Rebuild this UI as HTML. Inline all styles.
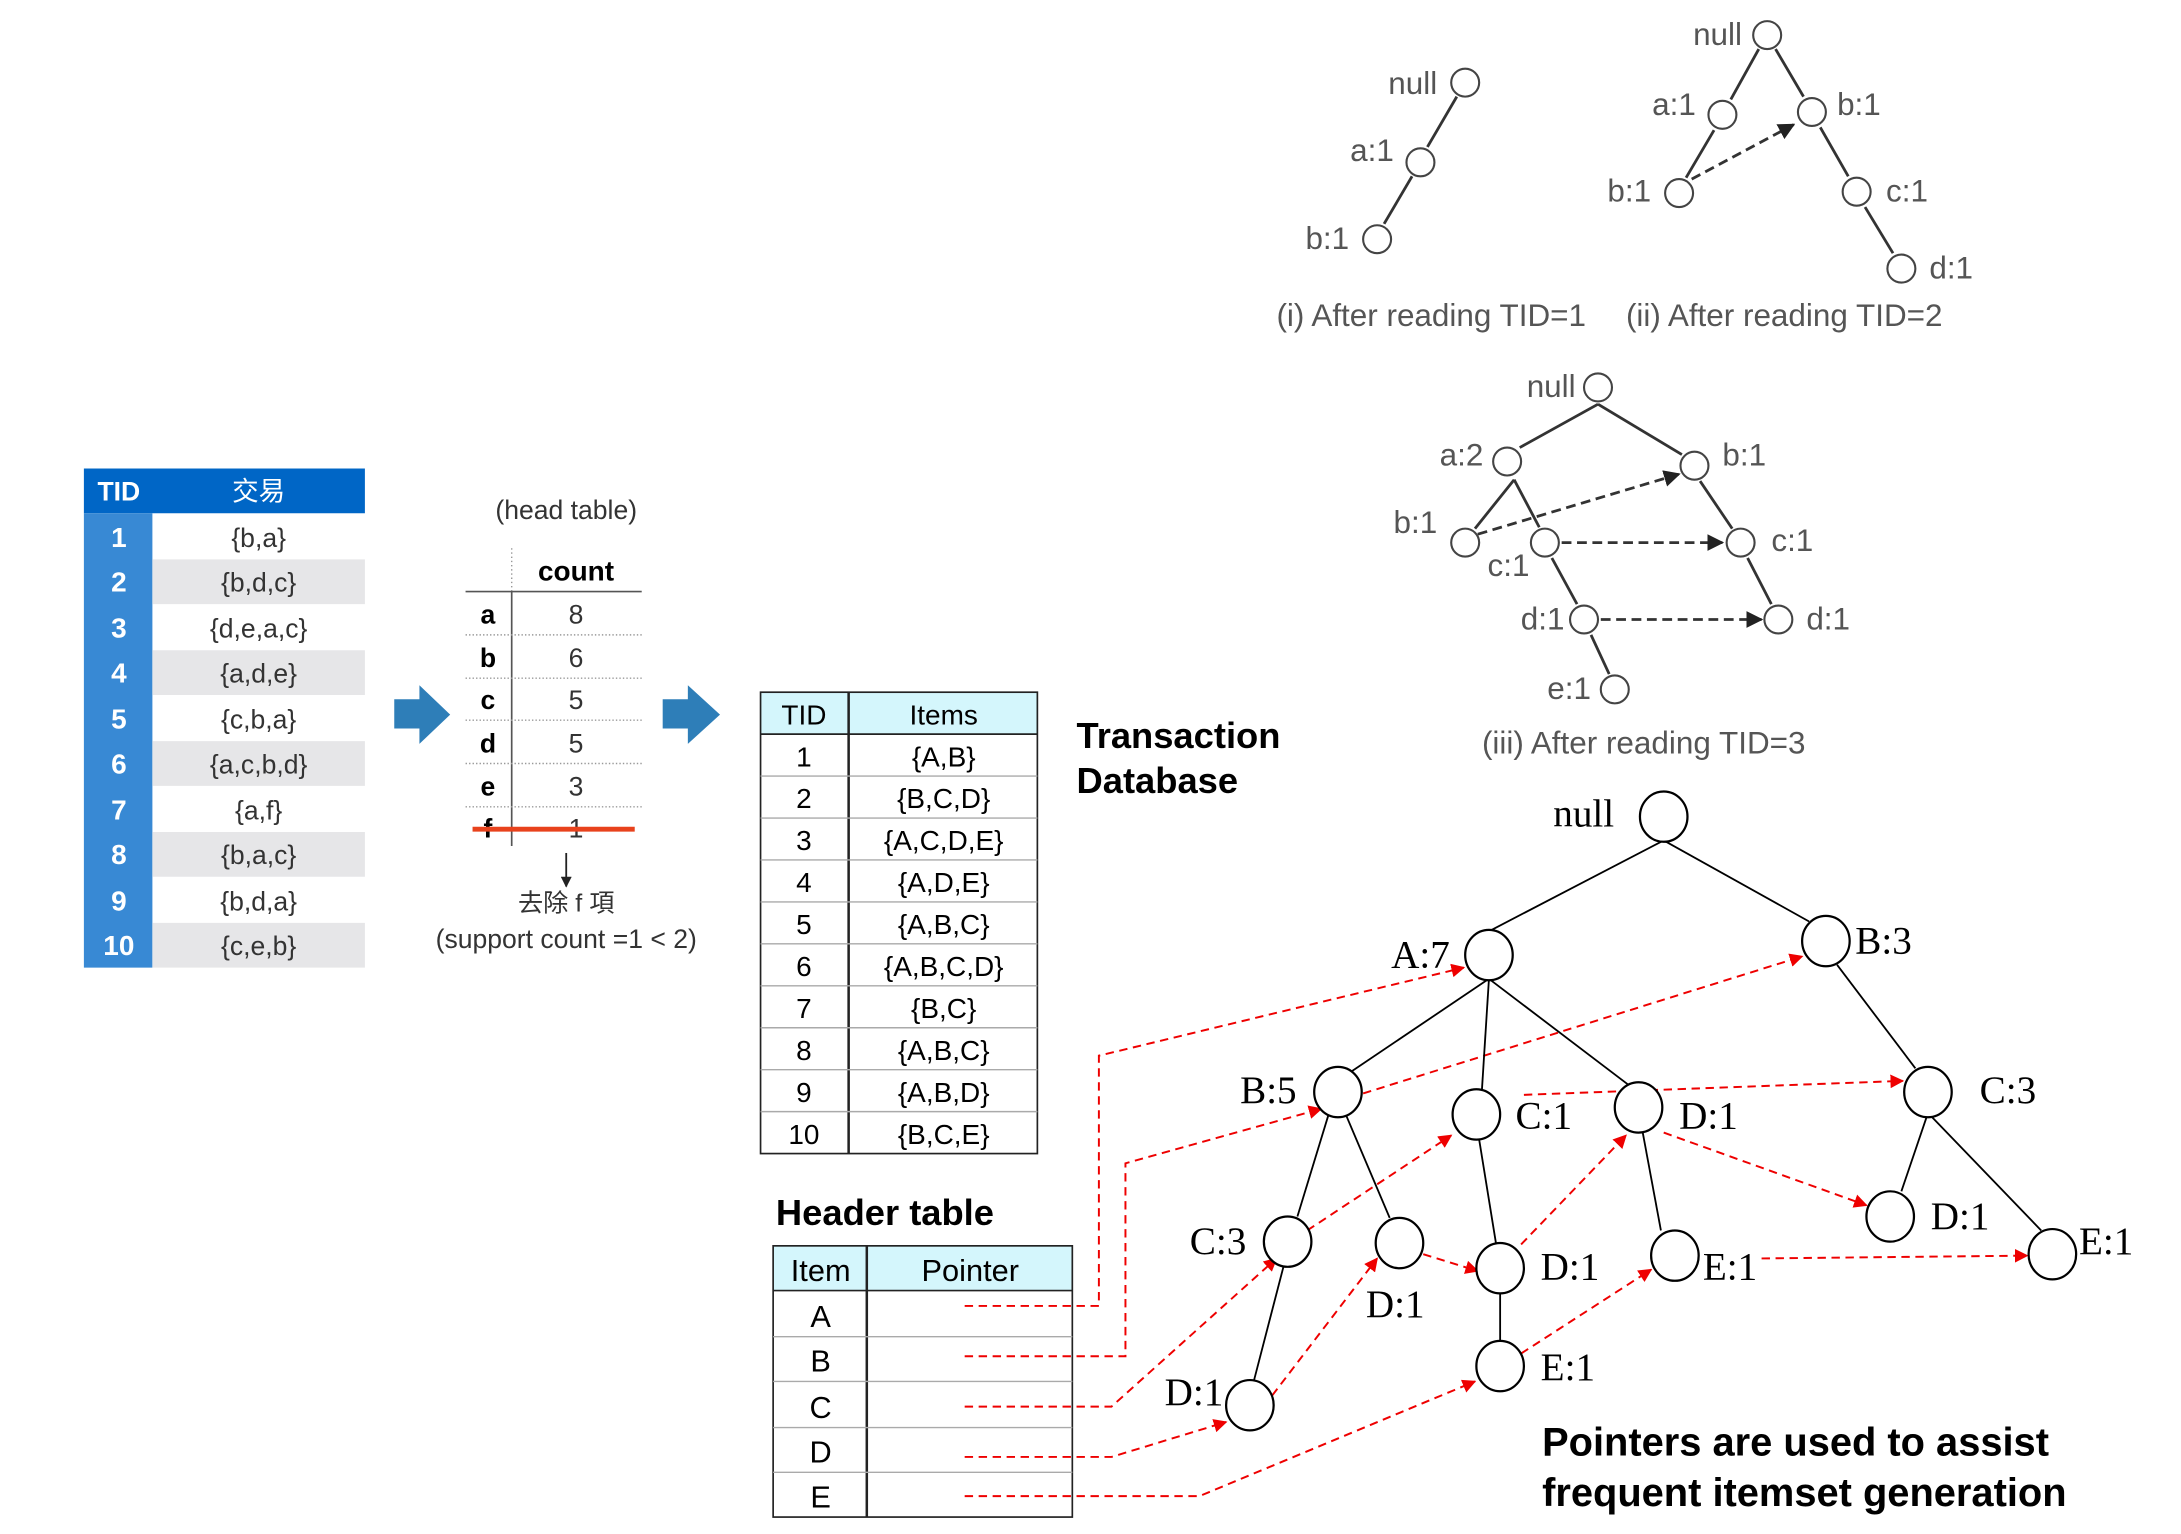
<!DOCTYPE html>
<html><head><meta charset="utf-8"><style>html,body{margin:0;padding:0;background:#fff}svg{display:block}</style></head>
<body>
<svg width="2181" height="1534" viewBox="0 0 1560 1097" xmlns="http://www.w3.org/2000/svg" font-family="Liberation Sans, Noto Sans CJK TC, sans-serif">
<defs>
<marker id="ar" viewBox="0 0 10 10" refX="9" refY="5" markerWidth="7" markerHeight="7" orient="auto-start-reverse"><path d="M0,0 L10,5 L0,10 z" fill="#e00"/></marker>
<marker id="ak" viewBox="0 0 10 10" refX="9" refY="5" markerWidth="6" markerHeight="6" orient="auto"><path d="M0,0 L10,5 L0,10 z" fill="#222"/></marker>
</defs>
<!-- left table -->
<rect x="60" y="335" width="201" height="32" fill="#0066c6"/>
<text x="85" y="358" fill="#fff" font-size="19" font-weight="bold" text-anchor="middle">TID</text>
<text x="185" y="358" fill="#fff" font-size="19" text-anchor="middle">交易</text>
<g font-size="19" text-anchor="middle">
<rect x="60" y="367" width="49" height="325" fill="#3889d4"/>
<rect x="109" y="400" width="152" height="32" fill="#e6e6e8"/>
<rect x="109" y="465" width="152" height="32" fill="#e6e6e8"/>
<rect x="109" y="530" width="152" height="32" fill="#e6e6e8"/>
<rect x="109" y="595" width="152" height="32" fill="#e6e6e8"/>
<rect x="109" y="660" width="152" height="32" fill="#e6e6e8"/>
<g fill="#fff" font-weight="bold" font-size="20">
<text x="85" y="391">1</text><text x="85" y="423">2</text><text x="85" y="456">3</text><text x="85" y="488">4</text><text x="85" y="521">5</text><text x="85" y="553">6</text><text x="85" y="586">7</text><text x="85" y="618">8</text><text x="85" y="651">9</text><text x="85" y="683">10</text>
</g>
<g fill="#333">
<text x="185" y="391">{b,a}</text><text x="185" y="423">{b,d,c}</text><text x="185" y="456">{d,e,a,c}</text><text x="185" y="488">{a,d,e}</text><text x="185" y="521">{c,b,a}</text><text x="185" y="553">{a,c,b,d}</text><text x="185" y="586">{a,f}</text><text x="185" y="618">{b,a,c}</text><text x="185" y="651">{b,d,a}</text><text x="185" y="683">{c,e,b}</text>
</g>
</g>
<!-- arrows -->
<path d="M282,500 H300 V490 L322,511 L300,532 V521 H282 Z" fill="#2e7eb8"/>
<path d="M474,500 H492 V490 L515,511 L492,532 V521 H474 Z" fill="#2e7eb8"/>
<!-- head table -->
<text x="405" y="371" font-size="19" fill="#333" text-anchor="middle">(head table)</text>
<text x="412" y="415" font-size="20" font-weight="bold" text-anchor="middle">count</text>
<line x1="366" y1="392" x2="366" y2="423" stroke="#999" stroke-dasharray="1,2"/>
<line x1="366" y1="423" x2="366" y2="605" stroke="#555" stroke-width="1.2"/>
<line x1="333" y1="423" x2="459" y2="423" stroke="#555" stroke-width="1.2"/>
<g stroke="#999" stroke-dasharray="1,1.5"><line x1="333" y1="454" x2="459" y2="454"/><line x1="333" y1="485" x2="459" y2="485"/><line x1="333" y1="515" x2="459" y2="515"/><line x1="333" y1="546" x2="459" y2="546"/><line x1="333" y1="577" x2="459" y2="577"/></g>
<g font-size="19" font-weight="bold" text-anchor="middle"><text x="349" y="446">a</text><text x="349" y="477">b</text><text x="349" y="507">c</text><text x="349" y="538">d</text><text x="349" y="569">e</text><text x="349" y="599">f</text></g>
<g font-size="19" fill="#333" text-anchor="middle"><text x="412" y="446">8</text><text x="412" y="477">6</text><text x="412" y="507">5</text><text x="412" y="538">5</text><text x="412" y="569">3</text><text x="412" y="599">1</text></g>
<line x1="338" y1="593" x2="454" y2="593" stroke="#e8421c" stroke-width="3.5"/>
<line x1="405" y1="610" x2="405" y2="634" stroke="#222" stroke-width="1.3" marker-end="url(#ak)"/>
<text x="405" y="652" font-size="18" fill="#333" text-anchor="middle">去除 f 項</text>
<text x="405" y="678" font-size="19" fill="#333" text-anchor="middle">(support count =1 &lt; 2)</text>
<!-- transaction table -->
<rect x="544" y="495" width="198" height="30" fill="#d4f6fc"/>
<rect x="544" y="495" width="198" height="330" fill="none" stroke="#222" stroke-width="1.2"/>
<line x1="544" y1="525" x2="742" y2="525" stroke="#222" stroke-width="1.2"/>
<line x1="607" y1="495" x2="607" y2="825" stroke="#222" stroke-width="1.8"/>
<g stroke="#aaa"><line x1="544" y1="555" x2="742" y2="555"/><line x1="544" y1="585" x2="742" y2="585"/><line x1="544" y1="615" x2="742" y2="615"/><line x1="544" y1="645" x2="742" y2="645"/><line x1="544" y1="675" x2="742" y2="675"/><line x1="544" y1="705" x2="742" y2="705"/><line x1="544" y1="735" x2="742" y2="735"/><line x1="544" y1="765" x2="742" y2="765"/><line x1="544" y1="795" x2="742" y2="795"/></g>
<g font-size="20" text-anchor="middle">
<text x="575" y="518">TID</text><text x="675" y="518">Items</text>
<text x="575" y="548">1</text><text x="675" y="548">{A,B}</text>
<text x="575" y="578">2</text><text x="675" y="578">{B,C,D}</text>
<text x="575" y="608">3</text><text x="675" y="608">{A,C,D,E}</text>
<text x="575" y="638">4</text><text x="675" y="638">{A,D,E}</text>
<text x="575" y="668">5</text><text x="675" y="668">{A,B,C}</text>
<text x="575" y="698">6</text><text x="675" y="698">{A,B,C,D}</text>
<text x="575" y="728">7</text><text x="675" y="728">{B,C}</text>
<text x="575" y="758">8</text><text x="675" y="758">{A,B,C}</text>
<text x="575" y="788">9</text><text x="675" y="788">{A,B,D}</text>
<text x="575" y="818">10</text><text x="675" y="818">{B,C,E}</text>
</g>
<g font-size="26" font-weight="bold"><text x="770" y="535">Transaction</text><text x="770" y="567">Database</text>
<text x="555" y="876">Header table</text></g>
<!-- header table -->
<rect x="553" y="891" width="214" height="32" fill="#d4f6fc"/>
<rect x="553" y="891" width="214" height="194" fill="none" stroke="#222" stroke-width="1.2"/>
<line x1="553" y1="923" x2="767" y2="923" stroke="#222" stroke-width="1.2"/>
<line x1="620" y1="891" x2="620" y2="1085" stroke="#222" stroke-width="1.8"/>
<g stroke="#aaa"><line x1="553" y1="956" x2="767" y2="956"/><line x1="553" y1="988" x2="767" y2="988"/><line x1="553" y1="1021" x2="767" y2="1021"/><line x1="553" y1="1053" x2="767" y2="1053"/></g>
<g font-size="22" text-anchor="middle">
<text x="587" y="916">Item</text><text x="694" y="916">Pointer</text>
<text x="587" y="949">A</text><text x="587" y="981">B</text><text x="587" y="1014">C</text><text x="587" y="1046">D</text><text x="587" y="1078">E</text>
</g>
<!-- red pointers -->
<g stroke="#e00" stroke-width="1.4" stroke-dasharray="6,4" fill="none">
<polyline points="690,934 786,934 786,755 1047,692" marker-end="url(#ar)"/>
<polyline points="690,970 805,970 805,832 945,793" marker-end="url(#ar)"/>
<line x1="975" y1="782" x2="1289" y2="684" marker-end="url(#ar)"/>
<polyline points="690,1006 795,1006 913,900" marker-end="url(#ar)"/>
<line x1="935" y1="880" x2="1038" y2="812" marker-end="url(#ar)"/>
<line x1="1090" y1="783" x2="1361" y2="773" marker-end="url(#ar)"/>
<polyline points="690,1042 795,1042 877,1017" marker-end="url(#ar)"/>
<line x1="910" y1="998" x2="985" y2="900" marker-end="url(#ar)"/>
<line x1="1018" y1="897" x2="1057" y2="909" marker-end="url(#ar)"/>
<line x1="1088" y1="890" x2="1163" y2="812" marker-end="url(#ar)"/>
<line x1="1190" y1="810" x2="1335" y2="862" marker-end="url(#ar)"/>
<polyline points="690,1070 858,1070 1055,988" marker-end="url(#ar)"/>
<line x1="1088" y1="968" x2="1181" y2="908" marker-end="url(#ar)"/>
<line x1="1260" y1="900" x2="1450" y2="898" marker-end="url(#ar)"/>
</g>
<!-- big tree -->
<g stroke="#000" stroke-width="1.3" fill="none">
<line x1="1190" y1="601" x2="1065" y2="666"/><line x1="1190" y1="601" x2="1294" y2="659"/>
<line x1="1065" y1="700" x2="967" y2="766"/><line x1="1065" y1="700" x2="1060" y2="779"/><line x1="1065" y1="700" x2="1165" y2="776"/>
<line x1="950" y1="798" x2="928" y2="870"/><line x1="963" y1="798" x2="994" y2="871"/>
<line x1="918" y1="906" x2="897" y2="987"/>
<line x1="1058" y1="815" x2="1070" y2="889"/><line x1="1073" y1="925" x2="1073" y2="959"/>
<line x1="1175" y1="810" x2="1188" y2="880"/>
<line x1="1314" y1="690" x2="1370" y2="764"/>
<line x1="1378" y1="799" x2="1360" y2="852"/><line x1="1382" y1="799" x2="1460" y2="880"/>
</g>
<g stroke="#000" stroke-width="1.6" fill="#fff">
<ellipse cx="1190" cy="584" rx="17" ry="18"/><ellipse cx="1065" cy="683" rx="17" ry="18"/><ellipse cx="1306" cy="673" rx="17" ry="18"/>
<ellipse cx="957" cy="781" rx="17" ry="18"/><ellipse cx="1056" cy="797" rx="17" ry="18"/><ellipse cx="1172" cy="792" rx="17" ry="18"/>
<ellipse cx="1379" cy="781" rx="17" ry="18"/><ellipse cx="921" cy="888" rx="17" ry="18"/><ellipse cx="1001" cy="889" rx="17" ry="18"/>
<ellipse cx="1073" cy="907" rx="17" ry="18"/><ellipse cx="1198" cy="898" rx="17" ry="18"/><ellipse cx="1352" cy="870" rx="17" ry="18"/>
<ellipse cx="1468" cy="897" rx="17" ry="18"/><ellipse cx="894" cy="1005" rx="17" ry="18"/><ellipse cx="1073" cy="977" rx="17" ry="18"/>
</g>
<g font-family="Liberation Serif, serif" font-size="28">
<text x="1111" y="591">null</text><text x="995" y="692">A:7</text><text x="1327" y="682">B:3</text>
<text x="887" y="789">B:5</text><text x="1084" y="807">C:1</text><text x="1201" y="807">D:1</text>
<text x="1416" y="789">C:3</text><text x="851" y="897">C:3</text><text x="977" y="942">D:1</text>
<text x="1102" y="915">D:1</text><text x="1218" y="915">E:1</text><text x="1381" y="879">D:1</text>
<text x="1487" y="897">E:1</text><text x="833" y="1005">D:1</text><text x="1102" y="987">E:1</text>
</g>
<g font-size="28.5" font-weight="bold"><text x="1103" y="1041">Pointers are used to assist</text><text x="1103" y="1077">frequent itemset generation</text></g>
<!-- small trees -->
<g stroke="#333" stroke-width="2" fill="none">
<line x1="1042" y1="69" x2="1021" y2="105"/><line x1="1010" y1="126" x2="990" y2="160"/>
<line x1="1258" y1="35" x2="1238" y2="71"/><line x1="1270" y1="35" x2="1290" y2="69"/>
<line x1="1226" y1="93" x2="1206" y2="127"/><line x1="1302" y1="91" x2="1322" y2="126"/><line x1="1334" y1="148" x2="1354" y2="181"/>
<line x1="1143" y1="289" x2="1087" y2="320"/><line x1="1143" y1="289" x2="1203" y2="325"/>
<line x1="1083" y1="343" x2="1055" y2="378"/><line x1="1083" y1="343" x2="1101" y2="377"/>
<line x1="1216" y1="344" x2="1239" y2="378"/><line x1="1250" y1="399" x2="1267" y2="432"/>
<line x1="1110" y1="399" x2="1128" y2="432"/><line x1="1138" y1="454" x2="1151" y2="482"/>
</g>
<g stroke="#333" stroke-width="2" stroke-dasharray="7,4" fill="none">
<line x1="1210" y1="128" x2="1283" y2="89" marker-end="url(#ak)"/>
<line x1="1057" y1="382" x2="1201" y2="339" marker-end="url(#ak)"/>
<line x1="1117" y1="388" x2="1232" y2="388" marker-end="url(#ak)"/>
<line x1="1145" y1="443" x2="1260" y2="443" marker-end="url(#ak)"/>
</g>
<g stroke="#444" stroke-width="1.5" fill="#fff">
<circle cx="1048" cy="59" r="10"/><circle cx="1016" cy="116" r="10"/><circle cx="985" cy="171" r="10"/>
<circle cx="1264" cy="25" r="10"/><circle cx="1232" cy="82" r="10"/><circle cx="1296" cy="80" r="10"/><circle cx="1201" cy="138" r="10"/><circle cx="1328" cy="137" r="10"/><circle cx="1360" cy="192" r="10"/>
<circle cx="1143" cy="277" r="10"/><circle cx="1078" cy="330" r="10"/><circle cx="1212" cy="333" r="10"/><circle cx="1048" cy="388" r="10"/><circle cx="1105" cy="388" r="10"/><circle cx="1245" cy="388" r="10"/><circle cx="1133" cy="443" r="10"/><circle cx="1272" cy="443" r="10"/><circle cx="1155" cy="493" r="10"/>
</g>
<g font-size="22.5" fill="#555">
<g text-anchor="end">
<text x="1028" y="67">null</text><text x="997" y="115">a:1</text><text x="965" y="178">b:1</text>
<text x="1246" y="32">null</text><text x="1213" y="82">a:1</text><text x="1181" y="144">b:1</text>
<text x="1127" y="284">null</text><text x="1061" y="333">a:2</text><text x="1028" y="381">b:1</text><text x="1119" y="450">d:1</text><text x="1138" y="500">e:1</text>
</g>
<text x="1314" y="82">b:1</text><text x="1349" y="144">c:1</text><text x="1380" y="199">d:1</text>
<text x="1232" y="333">b:1</text><text x="1064" y="412">c:1</text><text x="1267" y="394">c:1</text><text x="1292" y="450">d:1</text>
<text x="913" y="233">(i) After reading TID=1</text><text x="1163" y="233">(ii) After reading TID=2</text>
<text x="1060" y="539">(iii) After reading TID=3</text>
</g>
</svg>
</body></html>
